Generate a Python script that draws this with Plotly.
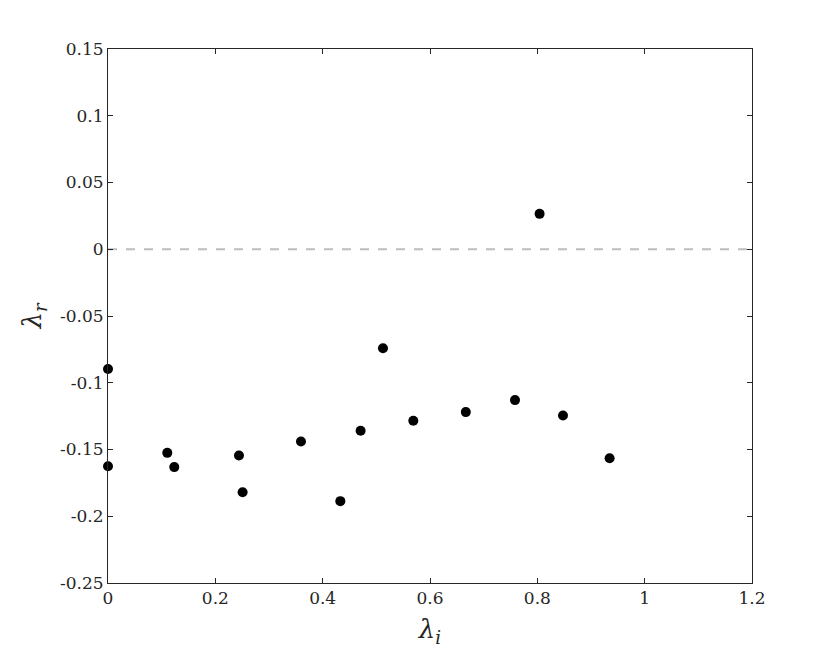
import plotly.graph_objects as go

# eigenvalues
lambda_i = [0.0, 0.0, 0.1105, 0.1235, 0.244, 0.2508, 0.3596, 0.4329,
            0.4707, 0.5124, 0.5689, 0.6667, 0.7584, 0.8042, 0.8478, 0.9347]
lambda_r = [-0.0897, -0.1625, -0.1525, -0.1632, -0.1545, -0.182, -0.144, -0.1887,
            -0.136, -0.0742, -0.1285, -0.122, -0.113, 0.0265, -0.1245, -0.1565]

x_ticks = [0, 0.2, 0.4, 0.6, 0.8, 1.0, 1.2]
x_ticktext = ["0", "0.2", "0.4", "0.6", "0.8", "1", "1.2"]
y_ticks = [-0.25, -0.2, -0.15, -0.1, -0.05, 0, 0.05, 0.1, 0.15]
y_ticktext = ["-0.25", "-0.2", "-0.15", "-0.1", "-0.05", "0", "0.05", "0.1", "0.15"]

AX = "#262626"
FONT = "DejaVu Serif"

fig = go.Figure()
fig.add_hline(y=0, line=dict(color="#bdbdbd", width=2, dash="dash"), layer="below")
fig.add_trace(go.Scatter(
    x=lambda_i, y=lambda_r, mode="markers",
    marker=dict(color="black", size=10),
    cliponaxis=False, showlegend=False,
))

axis_common = dict(
    showgrid=False, zeroline=False, showline=True, linecolor=AX, linewidth=1,
    mirror="ticks", ticks="inside", ticklen=5, tickcolor=AX,
    tickfont=dict(family=FONT, size=17, color=AX),
)
# page body adds an 8px margin, so the figure is a bit smaller than the window
fig.update_layout(
    width=822, height=648,
    margin=dict(l=100, r=78, t=41, b=73),
    plot_bgcolor="white", paper_bgcolor="white",
    xaxis=dict(range=[0, 1.2], tickvals=x_ticks, ticktext=x_ticktext,
               title=dict(text="<i>λ<sub>i</sub></i>", font=dict(family=FONT, size=26, color=AX), standoff=12),
               **axis_common),
    yaxis=dict(range=[-0.25, 0.15], tickvals=y_ticks, ticktext=y_ticktext,
               title=dict(text="<i>λ<sub>r</sub></i>", font=dict(family=FONT, size=26, color=AX), standoff=10),
               **axis_common),
)

fig.write_html("out.html")
